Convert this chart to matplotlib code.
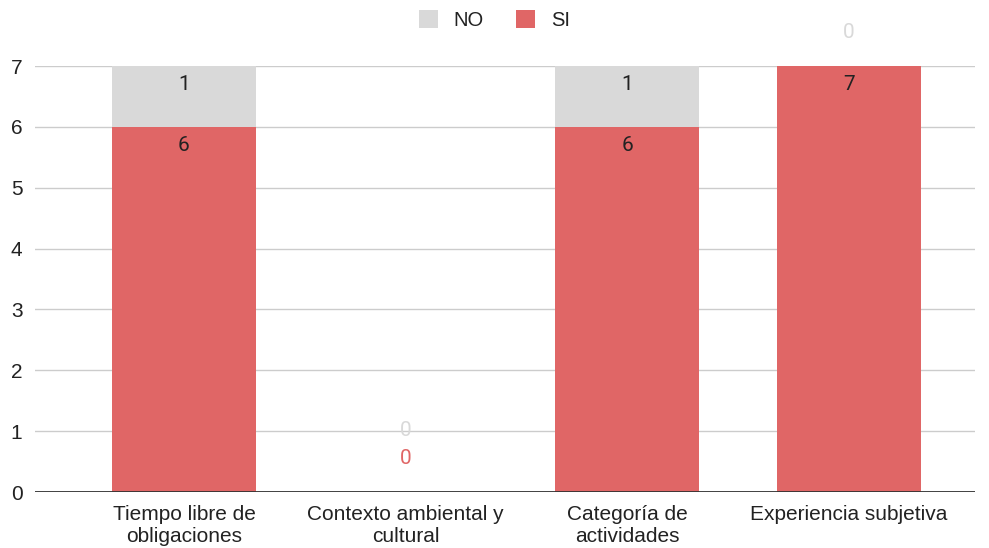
import matplotlib.pyplot as plt
from matplotlib.patches import Patch

plt.rcParams['font.family'] = ['Liberation Sans', 'DejaVu Sans']

categories = ['Tiempo libre de\nobligaciones', 'Contexto ambiental y\ncultural',
              'Categoría de\nactividades', 'Experiencia subjetiva']
si_values = [6, 0, 6, 7]
no_values = [1, 0, 1, 0]

red = '#e06666'
grey = '#d9d9d9'

fig = plt.figure(figsize=(9.89, 5.48), dpi=100)
ax = fig.add_axes([35 / 989, 56 / 548, 940 / 989, 426 / 548])

x = list(range(len(categories)))
width = 0.65
ax.bar(x, si_values, width, color=red, zorder=2)
ax.bar(x, no_values, width, bottom=si_values, color=grey, zorder=2)

ax.set_xlim(-0.672, 3.568)
ax.set_ylim(0, 7)
ax.set_yticks(range(0, 8))
ax.grid(axis='y', color='#cccccc', linewidth=1, zorder=0)
ax.axhline(0, color='#333333', linewidth=1.3, zorder=3)
for s in ax.spines.values():
    s.set_visible(False)
ax.tick_params(axis='both', length=0, labelsize=15, colors='#222222')
ax.tick_params(axis='y', pad=9)
ax.tick_params(axis='x', pad=9)
ax.set_xticks(x)
ax.set_xticklabels(categories, linespacing=1.2)

# value labels: inside top of each segment, zero values stacked above the bar
for i in x:
    base = 0
    zero_count = 0
    for vals, col in ((si_values, red), (no_values, grey)):
        v = vals[i]
        top = base + v
        if v > 0:
            ax.annotate(str(v), (i, top), xytext=(0, -19), textcoords='offset pixels',
                        ha='center', va='center', fontsize=15, color='#222222',
                        family='Roboto', zorder=4)
        else:
            off = 33 + 29 * zero_count
            zero_count += 1
            ax.annotate(str(v), (i, top), xytext=(0, off), textcoords='offset pixels',
                        ha='center', va='center', fontsize=15, color=col,
                        family='Roboto', zorder=4, annotation_clip=False)
        base = top

handles = [Patch(facecolor=grey, label='NO'), Patch(facecolor=red, label='SI')]
fig.legend(handles=handles, loc='center', bbox_to_anchor=(0.5, 1 - 20 / 548), ncol=2,
           frameon=False, fontsize=14.5, handlelength=0.95, handleheight=0.95,
           columnspacing=1.6, handletextpad=0.8, labelcolor='#222222')

fig.savefig('out.png', dpi=100)
